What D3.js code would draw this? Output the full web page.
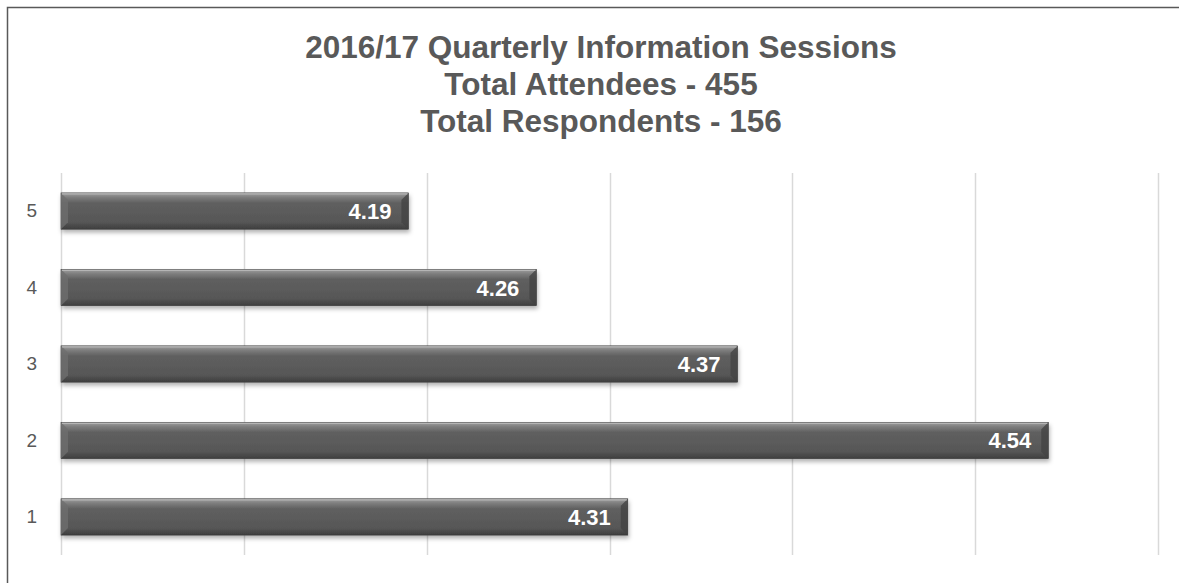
<!DOCTYPE html>
<html>
<head>
<meta charset="utf-8">
<script src="https://cdn.jsdelivr.net/npm/d3@7"></script>
<style>
  body { margin: 0; background: #fff; }
  svg { display: block; font-family: "Liberation Sans", Arial, sans-serif; }
</style>
</head>
<body>
<div id="chart"></div>
<script>
// data
var categories = ["5", "4", "3", "2", "1"];
var scores = [4.19, 4.26, 4.37, 4.54, 4.31];
var xTicks = [4.0, 4.1, 4.2, 4.3, 4.4, 4.5, 4.6];
var titleLines = ["2016/17 Quarterly Information Sessions", "Total Attendees - 455", "Total Respondents - 156"];

var svgWidth = 1179;
var svgHeight = 583;
var margin = {top: 173, right: 21, bottom: 28, left: 61};
var width = svgWidth - margin.left - margin.right;
var height = svgHeight - margin.top - margin.bottom;

var svg = d3.select("#chart")
  .append("svg")
  .attr("width", svgWidth)
  .attr("height", svgHeight);

// outer frame
svg.append("rect")
  .attr("x", 7.5).attr("y", 7.5)
  .attr("width", svgWidth + 10).attr("height", svgHeight + 10)
  .attr("fill", "none")
  .attr("stroke", "#595959")
  .attr("stroke-width", 1.5);

// title
svg.append("g").selectAll("text")
  .data(titleLines)
  .enter()
  .append("text")
  .attr("x", 601)
  .attr("y", (d, i) => 58 + i * 37)
  .attr("text-anchor", "middle")
  .attr("font-size", "31.5px")
  .attr("font-weight", "bold")
  .attr("fill", "#595959")
  .text(d => d);

var defs = svg.append("defs");
var grad = defs.append("linearGradient")
  .attr("id", "barGrad")
  .attr("x1", 0).attr("y1", 0).attr("x2", 0).attr("y2", 1);
grad.append("stop").attr("offset", "0%").attr("stop-color", "#a0a0a0");
grad.append("stop").attr("offset", "12%").attr("stop-color", "#7e7e7e");
grad.append("stop").attr("offset", "28%").attr("stop-color", "#5f5f5f");
grad.append("stop").attr("offset", "80%").attr("stop-color", "#575757");
grad.append("stop").attr("offset", "100%").attr("stop-color", "#3e3e3e");

var shadow = defs.append("filter").attr("id", "shadow")
  .attr("x", "-5%").attr("y", "-30%").attr("width", "110%").attr("height", "170%");
shadow.append("feDropShadow")
  .attr("dx", 1).attr("dy", 3).attr("stdDeviation", 2)
  .attr("flood-color", "#000").attr("flood-opacity", 0.3);

var chartGroup = svg.append("g")
  .attr("transform", `translate(${margin.left}, ${margin.top})`);

var xScale = d3.scaleLinear()
  .domain([4.0, 4.6])
  .range([0, width]);

var yScale = d3.scaleBand()
  .domain(categories)
  .range([0, height])
  .paddingInner(0.525)
  .paddingOuter(0.26);

// gridlines
chartGroup.append("g").selectAll("line")
  .data(xTicks)
  .enter()
  .append("line")
  .attr("x1", d => Math.round(xScale(d)) + 0.5)
  .attr("x2", d => Math.round(xScale(d)) + 0.5)
  .attr("y1", 0)
  .attr("y2", height)
  .attr("stroke", "#d9d9d9")
  .attr("stroke-width", 1.5);

// category labels
var leftAxis = d3.axisLeft(yScale).tickSize(0).tickPadding(24);
var yAxis = chartGroup.append("g").call(leftAxis);
yAxis.select(".domain").remove();
yAxis.selectAll("text")
  .attr("font-size", "19px")
  .attr("font-family", "Liberation Sans, Arial, sans-serif")
  .attr("fill", "#595959");

// bars
var bars = chartGroup.selectAll(".bar")
  .data(scores)
  .enter()
  .append("g")
  .attr("class", "bar")
  .attr("transform", (d, i) => `translate(0, ${yScale(categories[i])})`);

var bh = yScale.bandwidth();
var bev = 7;

bars.append("rect")
  .attr("x", 0)
  .attr("y", 0)
  .attr("width", d => xScale(d))
  .attr("height", bh)
  .attr("fill", "url(#barGrad)")
  .attr("stroke", "#3a3a3a")
  .attr("stroke-width", 0.6)
  .attr("filter", "url(#shadow)");

// bevel ends
bars.append("polygon")
  .attr("points", d => `0,0 ${bev},${bev} ${bev},${bh - bev} 0,${bh}`)
  .attr("fill", "#6e6e6e")
  .attr("opacity", 0.8);
bars.append("polygon")
  .attr("points", d => {
    var w = xScale(d);
    return `${w},0 ${w - bev},${bev} ${w - bev},${bh - bev} ${w},${bh}`;
  })
  .attr("fill", "#444")
  .attr("opacity", 0.8);
// top highlight strip
bars.append("line")
  .attr("x1", 1).attr("x2", d => xScale(d) - 1)
  .attr("y1", 1).attr("y2", 1)
  .attr("stroke", "#b5b5b5").attr("stroke-width", 1.2);

// value labels
bars.append("text")
  .attr("x", d => xScale(d) - 17)
  .attr("y", bh / 2 + 8)
  .attr("text-anchor", "end")
  .attr("font-size", "22px")
  .attr("font-weight", "bold")
  .attr("fill", "#fff")
  .text(d => d.toFixed(2));
</script>
</body>
</html>
